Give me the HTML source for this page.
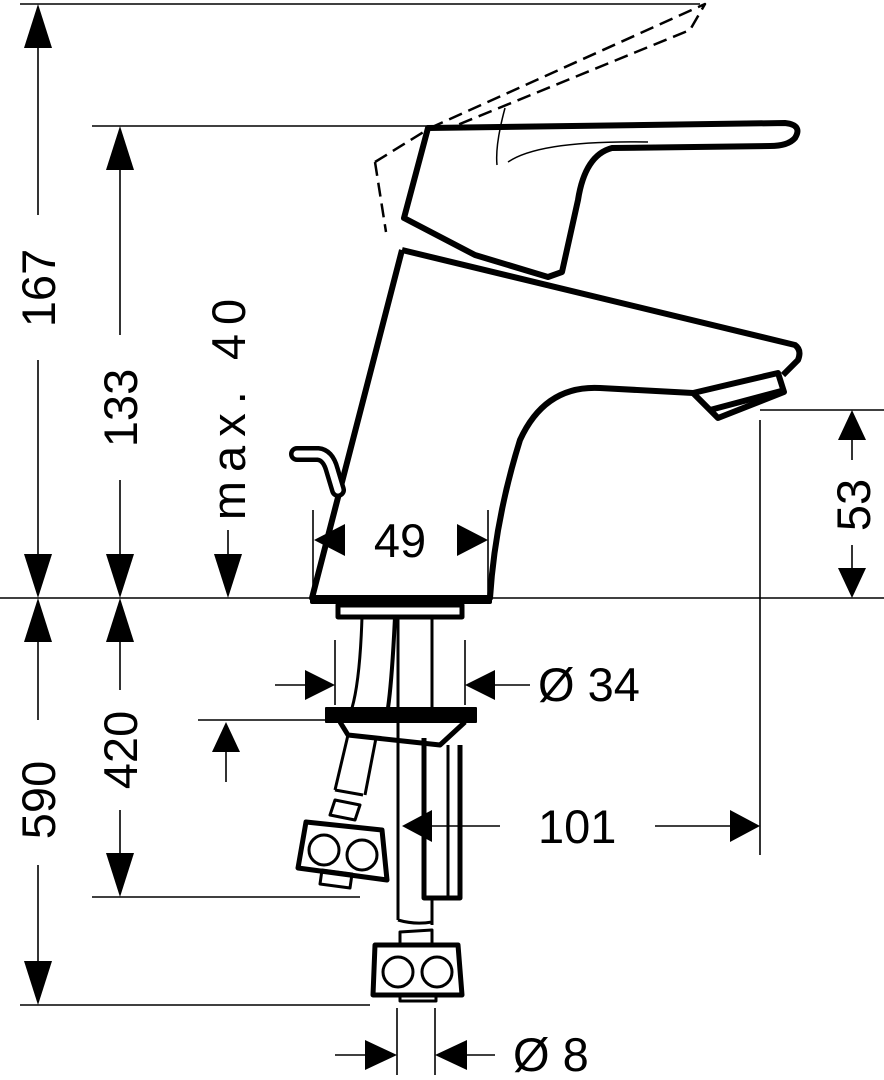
<!DOCTYPE html>
<html><head><style>html,body{margin:0;padding:0;background:#fff}svg{display:block}</style></head><body>
<svg width="884" height="1080" viewBox="0 0 884 1080" xmlns="http://www.w3.org/2000/svg" font-family="'Liberation Sans', 'DejaVu Sans', sans-serif">
<g stroke="#000" stroke-width="1.6" fill="none">
<line x1="0" y1="598" x2="884" y2="598"/>
<line x1="20" y1="4" x2="700" y2="4"/>
<line x1="92" y1="126" x2="430" y2="126"/>
<line x1="20" y1="1005" x2="370" y2="1005"/>
<line x1="92" y1="897" x2="360" y2="897"/>
<line x1="198" y1="720" x2="330" y2="720"/>
<line x1="760" y1="410" x2="884" y2="410"/>
<line x1="760" y1="420" x2="760" y2="855"/>
<line x1="38" y1="34" x2="38" y2="215"/><line x1="38" y1="360" x2="38" y2="568"/>
<line x1="120" y1="156" x2="120" y2="335"/><line x1="120" y1="480" x2="120" y2="568"/>
<line x1="228" y1="530" x2="228" y2="568"/>
<line x1="38" y1="628" x2="38" y2="720"/><line x1="38" y1="865" x2="38" y2="975"/>
<line x1="120" y1="628" x2="120" y2="690"/><line x1="120" y1="810" x2="120" y2="867"/>
<line x1="226" y1="752" x2="226" y2="782"/>
<line x1="852" y1="440" x2="852" y2="460"/><line x1="852" y1="545" x2="852" y2="568"/>
<line x1="313" y1="510" x2="313" y2="598"/><line x1="488" y1="510" x2="488" y2="598"/>
<line x1="275" y1="685" x2="305" y2="685"/><line x1="495" y1="685" x2="530" y2="685"/>
<line x1="335" y1="640" x2="335" y2="705"/><line x1="465" y1="640" x2="465" y2="705"/>
<line x1="432" y1="826" x2="500" y2="826"/><line x1="655" y1="826" x2="730" y2="826"/>
<line x1="397" y1="1008" x2="397" y2="1075"/><line x1="435" y1="1008" x2="435" y2="1075"/>
<line x1="335" y1="1055" x2="365" y2="1055"/><line x1="467" y1="1055" x2="495" y2="1055"/>
</g>
<g fill="#000">
<path d="M38,4L24,48H52z"/><path d="M38,598L24,554H52z"/>
<path d="M120,126L106,170H134z"/><path d="M120,598L106,554H134z"/>
<path d="M228,598L214,554H242z"/>
<path d="M38,598L24,642H52z"/><path d="M38,1005L24,961H52z"/>
<path d="M120,598L106,642H134z"/><path d="M120,897L106,853H134z"/>
<path d="M226,722L212,752H240z"/>
<path d="M852,410L838,440H866z"/><path d="M852,598L838,568H866z"/>
<path d="M314,540L345,524V556z"/><path d="M488,540L457,524V556z"/>
<path d="M335,685L305,670V700z"/><path d="M465,685L495,670V700z"/>
<path d="M402,826L432,810V842z"/><path d="M760,826L730,810V842z"/>
<path d="M397,1055L365,1040V1070z"/><path d="M435,1055L467,1040V1070z"/>
</g>
<g font-size="47" fill="#000">
<text transform="translate(55,288) rotate(-90)" text-anchor="middle">167</text>
<text transform="translate(137,408) rotate(-90)" text-anchor="middle">133</text>
<text transform="translate(245,405) rotate(-90)" text-anchor="middle" letter-spacing="9">max. 40</text>
<text transform="translate(55,800) rotate(-90)" text-anchor="middle">590</text>
<text transform="translate(137,750) rotate(-90)" text-anchor="middle">420</text>
<text transform="translate(870,505) rotate(-90)" text-anchor="middle">53</text>
<text x="400" y="557" text-anchor="middle">49</text>
<text x="538" y="701">Ø 34</text>
<text x="538" y="843">101</text>
<text x="513" y="1071">Ø 8</text>
</g>
<g stroke="#000" fill="none" stroke-linejoin="round">
<path d="M375,162L430,128M375,162L386,232M430,128L705,4L690,30L450,128" stroke-width="2.5" stroke-dasharray="14,7"/>
<path d="M428,128L785,123Q803,125 795,138Q788,146 770,146L612,148Q585,155 578,200L562,272L548,277L475,255L404,218Z" stroke-width="6"/>
<path d="M508,162Q540,140 648,142" stroke-width="1.5"/>
<path d="M497,165Q495,145 505,108" stroke-width="1.5"/>
<path d="M402,250L795,345Q802,350 798,360L783,375" stroke-width="6"/>
<path d="M402,250L312,598H490Q495,520 520,440Q545,385 600,388L693,393" stroke-width="6"/>
<path d="M693,393L778,373L784,392L718,418Z" stroke-width="6"/>
<path d="M710,410L785,390" stroke-width="6"/>
<path d="M338,490L332,470Q328,455 318,454L297,454" stroke="#000" stroke-width="16" stroke-linecap="round"/>
<path d="M338,490L332,470Q328,455 318,454L297,454" stroke="#fff" stroke-width="7" stroke-linecap="round"/>
<path d="M312,598H490V602H312Z" stroke-width="4" fill="#000"/>
<rect x="338" y="605" width="124" height="12" stroke-width="5"/>
<path d="M362,617Q360,680 352,708" stroke-width="3"/>
<path d="M395,617Q392,680 388,708" stroke-width="4"/>
<path d="M432,617V708" stroke-width="3"/>
<rect x="326" y="708" width="150" height="14" fill="#000" stroke-width="2"/>
<path d="M340,722L348,735L440,745L465,722" stroke-width="5"/>
<path d="M424,738V898H460V745" stroke-width="5"/>
<path d="M448,745V898" stroke-width="3"/>
<path d="M348,735L335,790M376,738L365,795M335,790L363,795" stroke-width="3"/>
<path d="M335,800L360,805L355,820L330,815Z" stroke-width="3"/>
<path d="M306,822L382,830L387,880L298,868Z" stroke-width="5"/>
<circle cx="324" cy="850" r="15" stroke-width="3"/><circle cx="362" cy="855" r="15" stroke-width="3"/>
<path d="M322,870L352,874L350,888L320,884Z" stroke-width="3"/>
<path d="M398,617V920M432,898V925M398,920Q415,925 432,922" stroke-width="3"/>
<path d="M400,932L432,930V945H400Z" stroke-width="3"/>
<path d="M375,945H458L462,995H373Z" stroke-width="5"/>
<circle cx="398" cy="972" r="15" stroke-width="3"/><circle cx="437" cy="972" r="15" stroke-width="3"/>
<rect x="400" y="995" width="36" height="6" stroke-width="3"/>
</g>
</svg>
</body></html>
